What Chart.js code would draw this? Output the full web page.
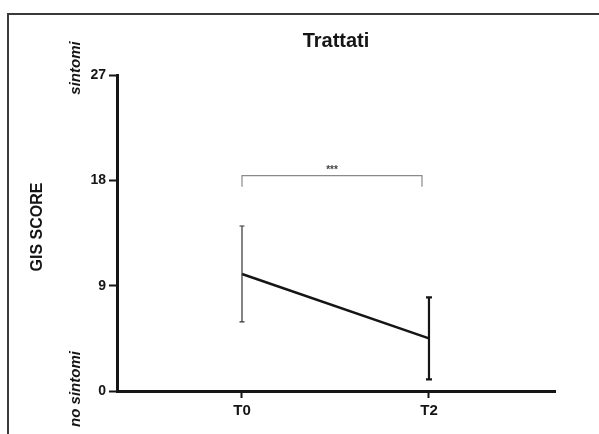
<!DOCTYPE html>
<html>
<head>
<meta charset="utf-8">
<script src="https://cdn.jsdelivr.net/npm/chart.js@4/dist/chart.umd.min.js"></script>
<style>
  html, body { margin: 0; padding: 0; background: #fff; }
  #wrap { width: 599px; height: 434px; position: relative; }
</style>
</head>
<body>
<div id="wrap"><canvas id="chart" width="599" height="434"></canvas></div>
<script>
// --- data ---
const timeLabels = ["T0", "T2"];
const timePoints = [0, 2];
const meanScore = [10.0, 4.5];
const errScore = [4.1, 3.5];
const yTicks = [0, 9, 18, 27];
const sigText = "***";
const sigLevel = 18.4;

const FONT = "'Liberation Sans', Arial, sans-serif";
const INK = "#151515";

const extras = {
    id: "extras",
    beforeDraw(chart) {
        const ctx = chart.ctx;
        ctx.save();
        // photo frame (left + top edge)
        ctx.strokeStyle = "#3a3a3a";
        ctx.lineWidth = 2;
        ctx.beginPath();
        ctx.moveTo(8, 434);
        ctx.lineTo(8, 14);
        ctx.lineTo(599, 14);
        ctx.stroke();
        ctx.restore();
    },
    afterDatasetsDraw(chart) {
        const ctx = chart.ctx;
        const x = chart.scales.x, y = chart.scales.y;
        const area = chart.chartArea;
        ctx.save();

        // error bars
        timePoints.forEach((t, i) => {
            const px = x.getPixelForValue(t);
            const top = y.getPixelForValue(meanScore[i] + errScore[i]);
            const bot = y.getPixelForValue(meanScore[i] - errScore[i]);
            const thick = i === 0 ? 1.2 : 2.2;
            const cap = i === 0 ? 2.5 : 3;
            ctx.strokeStyle = i === 0 ? "#333" : INK;
            ctx.lineWidth = thick;
            ctx.beginPath();
            ctx.moveTo(px, top); ctx.lineTo(px, bot);
            ctx.moveTo(px - cap, top); ctx.lineTo(px + cap, top);
            ctx.moveTo(px - cap, bot); ctx.lineTo(px + cap, bot);
            ctx.stroke();
        });

        // significance bracket
        const bx1 = x.getPixelForValue(timePoints[0]);
        const bx2 = x.getPixelForValue(timePoints[1]) - 7;
        const by = y.getPixelForValue(sigLevel);
        ctx.strokeStyle = "#8a8a8a";
        ctx.lineWidth = 1.2;
        ctx.beginPath();
        ctx.moveTo(bx1, by + 11); ctx.lineTo(bx1, by);
        ctx.lineTo(bx2, by); ctx.lineTo(bx2, by + 11);
        ctx.stroke();
        ctx.fillStyle = "#444";
        ctx.font = "bold 10px " + FONT;
        ctx.textAlign = "center";
        ctx.textBaseline = "middle";
        ctx.fillText(sigText, (bx1 + bx2) / 2, by - 5);

        // title
        ctx.fillStyle = INK;
        ctx.font = "bold 20px " + FONT;
        ctx.fillText("Trattati", (area.left + area.right) / 2, 41);

        // y axis title + end labels
        ctx.save();
        ctx.translate(38, 227);
        ctx.rotate(-Math.PI / 2);
        ctx.font = "bold 16px " + FONT;
        ctx.fillText("GIS SCORE", 0, 0);
        ctx.restore();

        ctx.font = "italic bold 15px " + FONT;
        ctx.save();
        ctx.translate(76, 68);
        ctx.rotate(-Math.PI / 2);
        ctx.fillText("sintomi", 0, 0);
        ctx.restore();
        ctx.save();
        ctx.translate(76, 389);
        ctx.rotate(-Math.PI / 2);
        ctx.fillText("no sintomi", 0, 0);
        ctx.restore();

        ctx.restore();
    }
};

new Chart(document.getElementById("chart"), {
    type: "line",
    data: {
        datasets: [{
            data: timePoints.map((t, i) => ({ x: t, y: meanScore[i] })),
            borderColor: INK,
            borderWidth: 2.5,
            pointRadius: 0,
            tension: 0,
            fill: false
        }]
    },
    options: {
        responsive: false,
        animation: false,
        devicePixelRatio: 1,
        layout: { padding: { top: 75, right: 44, left: 0, bottom: 0 } },
        plugins: { legend: { display: false }, title: { display: false }, tooltip: { enabled: false } },
        scales: {
            x: {
                type: "linear",
                min: -1.337,
                max: 3.348,
                afterBuildTicks: s => { s.ticks = timePoints.map(v => ({ value: v })); },
                afterFit: s => { s.height = 43; },
                ticks: {
                    callback: v => timeLabels[timePoints.indexOf(v)],
                    color: INK,
                    font: { family: FONT, size: 15, weight: "bold" },
                    padding: 4,
                    maxRotation: 0
                },
                grid: { drawOnChartArea: false, tickLength: 7, tickWidth: 2, tickColor: INK },
                border: { color: INK, width: 3 }
            },
            y: {
                min: 0,
                max: 27,
                afterBuildTicks: s => { s.ticks = yTicks.map(v => ({ value: v })); },
                afterFit: s => { s.width = 117; },
                ticks: {
                    color: INK,
                    font: { family: FONT, size: 14, weight: "bold" },
                    padding: 3
                },
                grid: { drawOnChartArea: false, tickLength: 8, tickWidth: 2, tickColor: INK },
                border: { color: INK, width: 3 }
            }
        }
    },
    plugins: [extras]
});
</script>
</body>
</html>
